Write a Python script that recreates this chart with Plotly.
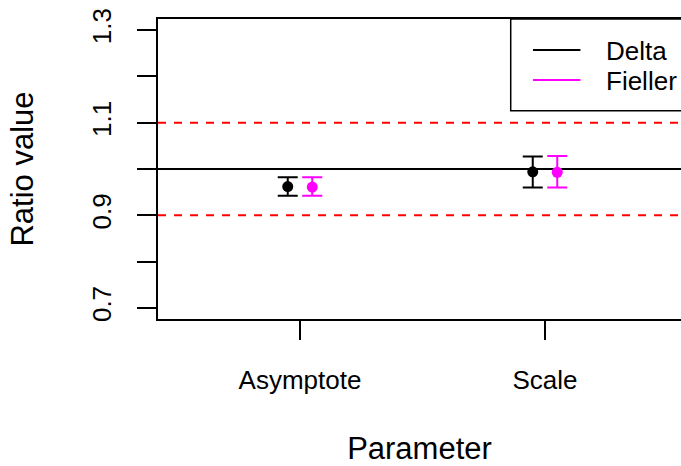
import plotly.graph_objects as go

# Ratio estimates with confidence limits for each model parameter
params = ["Asymptote", "Scale"]
param_pos = [1, 2]
delta_est = [0.962, 0.994]
delta_lo = [0.942, 0.960]
delta_hi = [0.982, 1.027]
fieller_est = [0.961, 0.993]
fieller_lo = [0.942, 0.960]
fieller_hi = [0.982, 1.028]

# reference lines: equivalence bounds and unity
bound_lines = [0.9, 1.1]
unity_line = 1.0

y_ticks = [0.7, 0.8, 0.9, 1.0, 1.1, 1.2, 1.3]
y_tick_text = ["0.7", "", "0.9", "", "1.1", "", "1.3"]

offset = 0.05
FONT = "Liberation Sans, Arial, Helvetica, sans-serif"

fig = go.Figure()


def add_series(est, lo, hi, shift, color, name):
    xs = [p + shift for p in param_pos]
    fig.add_trace(go.Scatter(
        x=xs, y=est, mode="markers", name=name,
        marker=dict(symbol="circle", size=11, color=color),
        error_y=dict(type="data", symmetric=False,
                     array=[h - e for h, e in zip(hi, est)],
                     arrayminus=[e - l for e, l in zip(est, lo)],
                     color=color, thickness=2, width=10),
        showlegend=False,
    ))


add_series(delta_est, delta_lo, delta_hi, -offset, "black", "Delta")
add_series(fieller_est, fieller_lo, fieller_hi, offset, "#FF00FF", "Fieller")

# horizontal guide lines across the plot region
fig.add_shape(type="line", xref="x domain", yref="y", x0=0, x1=1,
              y0=unity_line, y1=unity_line, line=dict(color="black", width=2),
              layer="below")
for b in bound_lines:
    fig.add_shape(type="line", xref="x domain", yref="y", x0=0, x1=1,
                  y0=b, y1=b, line=dict(color="#FF0000", width=2, dash="8px,8px"),
                  layer="below")

# legend box in the top-right corner
legend_items = [("Delta", "black"), ("Fieller", "#FF00FF")]
fig.add_shape(type="rect", xref="paper", yref="paper",
              x0=0.6744, x1=1.2, y0=0.6943, y1=1.0,
              line=dict(color="black", width=1.5), fillcolor="white", layer="above")
for i, (label, color) in enumerate(legend_items):
    yy = 0.8967 - i * 0.1
    fig.add_shape(type="line", xref="paper", yref="paper",
                  x0=0.717, x1=0.8077, y0=yy, y1=yy,
                  line=dict(color=color, width=2))
    fig.add_annotation(xref="paper", yref="paper", x=0.8533, y=yy - 0.004,
                       text=label, showarrow=False, xanchor="left", yanchor="middle",
                       font=dict(family=FONT, size=26, color="black"))

fig.update_layout(
    width=681, height=466,
    margin=dict(l=158, r=0, t=19, b=147),
    paper_bgcolor="white", plot_bgcolor="white",
    font=dict(family=FONT, size=26, color="black"),
    showlegend=False,
)

fig.update_xaxes(
    range=[0.4204, 2.5551],
    tickmode="array", tickvals=param_pos, ticktext=params,
    ticks="outside", ticklen=19, tickwidth=1.5, tickcolor="black",
    showline=True, linecolor="black", linewidth=1.5, mirror=True,
    showgrid=False, zeroline=False,
    tickfont=dict(size=26), ticklabelstandoff=18,
    title=dict(text="Parameter", font=dict(size=31), standoff=50),
)
fig.update_yaxes(
    range=[0.676, 1.324],
    tickmode="array", tickvals=y_ticks, ticktext=y_tick_text,
    ticks="outside", ticklen=19, tickwidth=1.5, tickcolor="black",
    showline=True, linecolor="black", linewidth=1.5, mirror=False,
    showgrid=False, zeroline=False, tickangle=-90,
    tickfont=dict(size=26), ticklabelstandoff=16,
    title=dict(text="Ratio value", font=dict(size=31), standoff=44),
)

fig.write_html("out.html")
